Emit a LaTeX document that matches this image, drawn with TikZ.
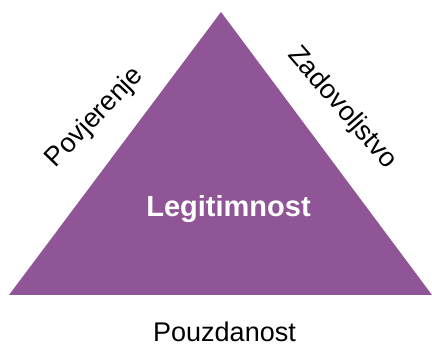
\documentclass[tikz,border=0pt]{standalone}
\usepackage{fontspec}
\setmainfont{Liberation Sans}
\definecolor{tripurple}{RGB}{143,85,151}
\begin{document}
\begin{tikzpicture}[x=1pt,y=1pt,
  lbl/.style={inner sep=0pt, font=\fontsize{27}{30}\selectfont, text=black},
  core/.style={inner sep=0pt, font=\fontsize{29}{33}\selectfont\bfseries, text=white}]
\useasboundingbox (0,0) rectangle (432,347);
\coordinate (L) at (9,52);
\coordinate (T) at (221,335);
\coordinate (R) at (432,52);
\fill[tripurple] (L) -- (T) -- (R) -- cycle;
\node[core, anchor=base] (legit) at (228.5,130) {Legitimnost};
\node[lbl, anchor=base] (pouz) at (224.5,5) {Pouzdanost};
\node[lbl, rotate=46] (povj) at (95,229) {Povjerenje};
\node[lbl, rotate=-49] (zado) at (342,239) {Zadovoljstvo};
\end{tikzpicture}
\end{document}
